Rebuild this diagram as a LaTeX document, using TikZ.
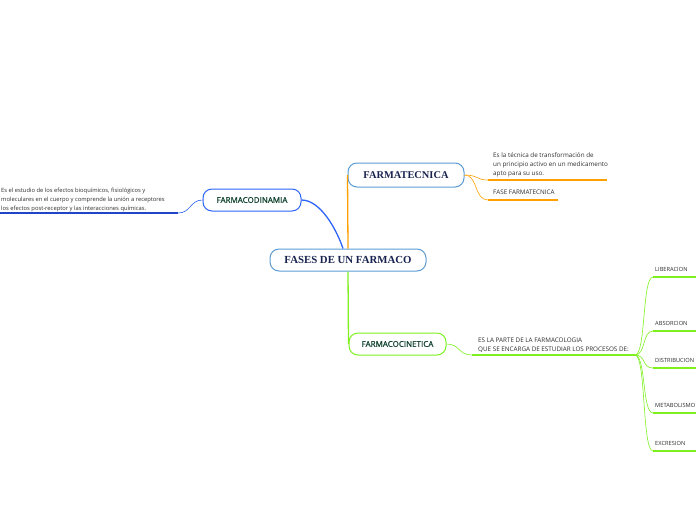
\documentclass[tikz,border=0pt]{standalone}
\usepackage{fontspec}
\setmainfont{Liberation Serif}
\newfontfamily\mapfont{Open Sans}
\newfontfamily\topicfont[FakeBold=1.2]{Open Sans}
\usetikzlibrary{positioning, calc}
\definecolor{rootblue}{RGB}{91,155,213}
\definecolor{navy}{RGB}{25,35,80}
\definecolor{dinblue}{RGB}{45,100,250}
\definecolor{darkblue}{RGB}{30,70,200}
\definecolor{tecorange}{RGB}{255,160,0}
\definecolor{cingreen}{RGB}{125,240,30}
\definecolor{topicgreen}{RGB}{20,70,50}
\definecolor{leafgray}{RGB}{45,45,45}

\begin{document}
\begin{tikzpicture}[
  x=1pt, y=-1pt,
  every node/.style={inner sep=0pt},
  central/.style={
    draw=rootblue, line width=1pt, rounded corners=9pt,
    fill=white, text=navy,
    minimum width=156pt, minimum height=22pt,
    font=\bfseries\fontsize{10.8}{12}\selectfont,
  },
  topic/.style={
    draw=#1, line width=1pt, rounded corners=9pt,
    fill=white, text=topicgreen,
    minimum height=22pt,
    font=\topicfont\fontsize{8}{9}\selectfont,
  },
  leaf/.style={
    text=leafgray, align=left,
    font=\mapfont\fontsize{6.3}{9}\selectfont,
  },
  proc/.style={leaf, anchor=base west, font=\mapfont\fontsize{5.7}{9}\selectfont},
  link/.style={draw=#1, line width=0.6pt},
  uline/.style={draw=#1, line width=1.6pt},
]
  \path[use as bounding box, clip] (0,0) rectangle (696,520);

  % main topics
  \node[central]                           (fases)    at (348,260) {FASES DE UN FARMACO};
  \node[central, minimum width=116pt, minimum height=24pt,
        font=\bfseries\fontsize{10.4}{12}\selectfont] (tecnica) at (406,175) {FARMATECNICA};
  \node[topic=dinblue, minimum width=98pt] (dinamia)  at (252,200) {FARMACODINAMIA};
  \node[topic=cingreen, minimum width=97pt](cinetica) at (397.5,344) {FARMACOCINETICA};

  \draw[link=tecorange, line width=1.3pt] (fases.north) -- (tecnica.west);
  \draw[link=dinblue, line width=1.3pt] (dinamia.east) .. controls (320,200) and (336,228) .. ([xshift=-5pt]fases.north);
  \draw[link=cingreen, line width=1.3pt] (fases.south) -- (cinetica.west);

  % farmacodinamia
  \coordinate (dinR) at (178,213);
  \coordinate (dinL) at (0,213);
  \node[leaf, anchor=south west, font=\mapfont\fontsize{5.8}{9}\selectfont] (dintext) at (1,212)
    {Es el estudio de los efectos bioquímicos, fisiológicos y\\
     moleculares en el cuerpo y comprende la unión a receptores\\
     los efectos post-receptor y las interacciones químicas.};
  \draw[link=dinblue] (dinamia.west) .. controls (190,200) and (191,213) .. (dinR);
  \draw[uline=darkblue] (dinR) -- (dinL);

  % farmatecnica
  \coordinate (tecA) at (488,180);
  \coordinate (tecAe) at (607,180);
  \coordinate (tecB) at (488,200);
  \coordinate (tecBe) at (558,200);
  \node[leaf, anchor=south west] (tectext) at (493,177)
    {Es la técnica de transformación de\\
     un principio activo en un medicamento\\
     apto para su uso.};
  \node[leaf, anchor=base west] (tecfase) at (493,194.5) {FASE FARMATECNICA};
  \draw[link=tecorange] (tecnica.east) .. controls (478,175) and (476,180) .. (tecA);
  \draw[link=tecorange] (tecnica.east) .. controls (478,175) and (474,200) .. (tecB);
  \draw[uline=tecorange] (tecA) -- (tecAe);
  \draw[uline=tecorange] (tecB) -- (tecBe);

  % farmacocinetica
  \coordinate (cinA) at (472,355);
  \coordinate (cinR) at (635,355);
  \node[leaf, anchor=south west] (cintext) at (478,352.5)
    {ES LA PARTE DE LA FARMACOLOGIA\\
     QUE SE ENCARGA DE ESTUDIAR LOS PROCESOS DE:};
  \draw[link=cingreen] (cinetica.east) .. controls (460,344) and (458,355) .. (cinA);
  \draw[uline=cingreen] (cinA) -- (cinR);

  \foreach \nm/\lbl/\yy in {lib/LIBERACION/277, abs/ABSORCION/331,
      dis/DISTRIBUCION/368, met/METABOLISMO/413, exc/EXCRESION/451} {
    \coordinate (\nm) at (653,\yy);
    \coordinate (\nm e) at (700,\yy);
    \node[proc] (\nm text) at (655,\yy-5.5) {\lbl};
    \draw[link=cingreen] (cinR) .. controls (646,355) and (642,\yy) .. (\nm);
    \draw[uline=cingreen] (\nm) -- (\nm e);
  }
\end{tikzpicture}
\end{document}
